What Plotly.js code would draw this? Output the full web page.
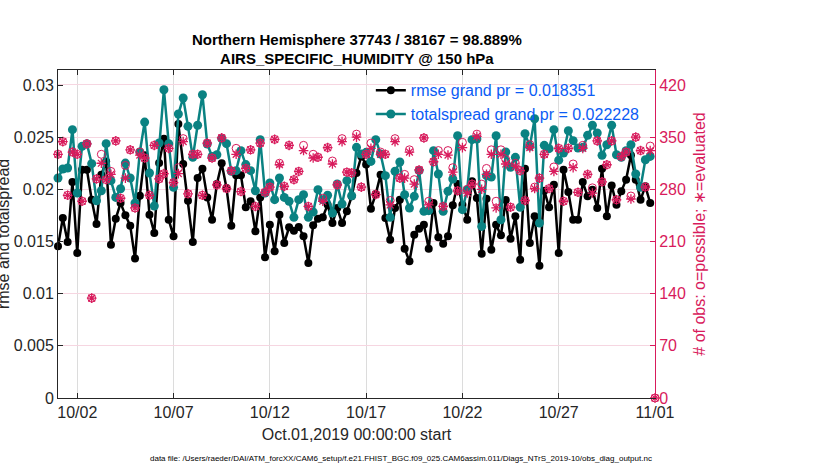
<!DOCTYPE html>
<html>
<head>
<meta charset="utf-8">
<script src="https://cdn.plot.ly/plotly-3.0.1.min.js"></script>
<style>html,body{margin:0;padding:0;background:#fff;}#chart{width:830px;height:470px;}</style>
</head>
<body>
<div id="chart"></div>
<script>
// ---- data (6-hourly bins starting Oct.01,2019 00:00) ----
var startTime = '2019-10-01T00:00:00Z';
var stepHours = 6;

var rmse = [
0.01454,0.01725,0.01495,0.0207,0.0139,0.02189,0.02189,0.0190,0.01668,0.0214,
0.02268,0.0147,0.01719,0.01869,0.01751,0.01652,0.01336,0.01939,0.02326,0.01757,
0.01582,0.02252,0.02486,0.01709,0.0155,0.02626,0.02243,0.01891,0.01495,0.02109,
0.02198,0.01923,0.01709,0.02051,0.02249,0.02013,0.01652,0.02134,0.02134,0.01828,
0.01885,0.01598,0.01923,0.01348,0.01661,0.01406,0.01757,0.01486,0.01636,0.01604,
0.01639,0.0155,0.01294,0.01655,0.01719,0.01732,0.01853,0.01677,0.01821,0.01677,
0.01789,0.01933,0.02157,0.02316,0.02237,0.01815,0.01955,0.02141,0.01725,0.01518,
0.01821,0.01901,0.01431,0.0131,0.01566,0.01623,0.01661,0.01431,0.01869,0.0154,
0.01479,0.0155,0.01847,0.02051,0.01853,0.01709,0.02077,0.01917,0.01383,0.01911,
0.01422,0.01661,0.01559,0.01898,0.01527,0.01741,0.01326,0.02198,0.01486,0.01741,
0.01268,0.01987,0.01828,0.02045,0.0139,0.02189,0.01975,0.01709,0.01709,0.0207,
0.01933,0.01997,0.01821,0.02198,0.01741,0.02038,0.01853,0.01981,0.02093,0.02326,
0.02093,0.01901,0.02029,0.01869
];

var totalspread = [
0.02109,0.02195,0.02205,0.02572,0.01965,0.02412,0.02438,0.02246,0.01891,0.01987,
0.02438,0.02083,0.01923,0.02006,0.02252,0.02109,0.01869,0.02358,0.02645,0.02157,
0.0184,0.02444,0.02955,0.02438,0.02019,0.02722,0.02876,0.02604,0.02307,0.02614,
0.02907,0.02435,0.02316,0.02332,0.02486,0.02438,0.02173,0.02179,0.02371,0.02237,
0.02179,0.01987,0.02476,0.01965,0.02061,0.01901,0.02109,0.01923,0.01885,0.01732,
0.01901,0.01949,0.01732,0.01783,0.01997,0.01901,0.01943,0.01773,0.02051,0.0186,
0.02083,0.01939,0.02403,0.02339,0.02355,0.02268,0.02476,0.02339,0.02131,0.01732,
0.02173,0.02262,0.01949,0.01821,0.01933,0.02179,0.01789,0.01796,0.02371,0.02147,
0.01789,0.01981,0.02099,0.02514,0.01805,0.01997,0.02476,0.02483,0.01645,0.02131,
0.02118,0.02514,0.01709,0.02358,0.02211,0.02307,0.01828,0.02534,0.02412,0.02677,
0.01677,0.02422,0.0239,0.02572,0.0228,0.02348,0.02562,0.02467,0.02396,0.02403,
0.02518,0.02614,0.0254,0.02326,0.02428,0.02614,0.02332,0.02307,0.02371,0.02428,
0.02147,0.02019,0.02284,0.02316
];

var obsPossible = [
327,344,272,330,327,264,341,134,294,327,
293,304,345,268,312,333,255,330,322,272,
339,294,301,335,289,309,348,274,327,327,
272,342,322,286,349,281,305,335,277,308,
333,257,342,276,283,347,315,284,339,293,
304,339,257,327,323,268,336,318,286,348,
303,302,354,283,327,342,273,330,327,265,
348,295,300,333,293,306,349,264,317,332,
257,332,309,278,343,280,287,354,287,308,
333,264,333,320,256,315,305,265,340,283,
295,327,281,310,335,264,335,314,276,339,
300,282,345,290,313,345,266,324,330,271,
350,332,283,338,0
];

var obsEvaluated = [
327,344,272,330,327,264,341,134,294,315,
293,300,345,268,295,333,255,326,322,272,
339,294,301,335,289,301,344,274,327,327,
272,342,322,286,349,281,305,327,277,308,
333,257,342,276,283,347,313,284,339,293,
304,332,257,322,323,264,336,314,286,344,
303,302,350,283,327,335,273,327,327,259,
344,295,295,330,287,306,349,259,317,327,
257,326,303,278,336,275,287,351,280,300,
327,255,327,314,256,311,305,265,336,281,
295,327,281,304,335,264,335,309,276,335,
300,275,345,290,313,345,266,324,330,267,
350,332,283,332,0
];

var rmseLabel = 'rmse grand pr = 0.018351';
var spreadLabel = 'totalspread grand pr = 0.022228';
var xTickText = ['10/02','10/07','10/12','10/17','10/22','10/27','11/01'];
var xTickVals = ['2019-10-02','2019-10-07','2019-10-12','2019-10-17','2019-10-22','2019-10-27','2019-11-01'];
var leftTicks = [0,0.005,0.01,0.015,0.02,0.025,0.03];
var leftTickText = ['0','0.005','0.01','0.015','0.02','0.025','0.03'];
var rightTicks = [0,70,140,210,280,350,420];

// ---- build time axis from bin index ----
function timeAt(i){
  var t = new Date(Date.parse(startTime) + i*stepHours*3600*1000);
  return t.toISOString().slice(0,19).replace('T',' ');
}
var tMetric = rmse.map(function(_,i){return timeAt(i);});
var tObs = obsPossible.map(function(_,i){return timeAt(i);});

var RED = '#d81b5c';
var TEAL = '#0a8282';
var AXC = '#262626';
var FONT = 'Liberation Sans, Arial, Helvetica, sans-serif';

var traces = [
  {x:tMetric, y:rmse, name:rmseLabel, type:'scatter', mode:'lines+markers',
   line:{color:'#000000', width:2.5}, marker:{color:'#000000', size:8, symbol:'circle'},
   cliponaxis:false, yaxis:'y'},
  {x:tMetric, y:totalspread, name:spreadLabel, type:'scatter', mode:'lines+markers',
   line:{color:TEAL, width:2.5}, marker:{color:TEAL, size:9, symbol:'circle'},
   cliponaxis:false, yaxis:'y'},
  {x:tObs, y:obsPossible, name:'possible', type:'scatter', mode:'markers', showlegend:false,
   marker:{symbol:'circle-open', size:8, color:RED, line:{color:RED, width:1}},
   cliponaxis:false, yaxis:'y2'},
  {x:tObs, y:obsEvaluated, name:'evaluated', type:'scatter', mode:'markers', showlegend:false,
   marker:{symbol:'asterisk-open', size:8, color:RED, line:{color:RED, width:1.3}},
   cliponaxis:false, yaxis:'y2'}
];

var layout = {
  width:830, height:470,
  margin:{l:58, r:175, t:70, b:72},
  paper_bgcolor:'#ffffff', plot_bgcolor:'#ffffff',
  font:{family:FONT, size:16, color:AXC},
  title:{text:'<b>Northern Hemisphere 37743 / 38167 = 98.889%</b><br><b>AIRS_SPECIFIC_HUMIDITY @ 150 hPa</b>',
    font:{family:FONT, size:15, color:'#000000'}, x:0.43, xanchor:'center', y:0.905, yanchor:'middle', yref:'container'},
  showlegend:true,
  legend:{x:0.524, y:0.99, xanchor:'left', yanchor:'top', bgcolor:'rgba(0,0,0,0)', borderwidth:0,
    font:{family:FONT, size:16, color:'#0b5cf5'}, tracegroupgap:0, itemwidth:30},
  xaxis:{type:'date', range:['2019-10-01 00:00','2019-11-01 00:00'],
    tickvals:xTickVals, ticktext:xTickText, ticks:'inside', ticklen:5, tickcolor:AXC,
    showline:true, linecolor:AXC, linewidth:1, mirror:'ticks',
    showgrid:true, gridcolor:'#dcdcdc', gridwidth:1, zeroline:false,
    tickfont:{family:FONT, size:16, color:AXC},
    title:{text:'Oct.01,2019 00:00:00 start', font:{family:FONT, size:16, color:AXC}, standoff:8}},
  yaxis:{range:[0,0.03144], tickvals:leftTicks, ticktext:leftTickText, ticks:'inside', ticklen:5, tickcolor:AXC,
    showline:true, linecolor:AXC, linewidth:1, showgrid:false, zeroline:false,
    tickfont:{family:FONT, size:16, color:AXC}},
  yaxis2:{overlaying:'y', side:'right', range:[0,440.1], tickvals:rightTicks, ticks:'inside', ticklen:5, tickcolor:RED,
    showline:true, linecolor:RED, linewidth:1, showgrid:true, gridcolor:'#f6d6e1', gridwidth:1, zeroline:false,
    tickfont:{family:FONT, size:16, color:RED},
    title:{text:'# of obs: o=possible; \u2217=evaluated', font:{family:FONT, size:16, color:RED}, standoff:8}},
  annotations:[
    {text:'rmse and totalspread', xref:'paper', yref:'paper', x:-0.092, y:0.5, xanchor:'center', yanchor:'middle',
     textangle:-90, showarrow:false, font:{family:FONT, size:16, color:AXC}},
    {text:'data file: /Users/raeder/DAI/ATM_forcXX/CAM6_setup/f.e21.FHIST_BGC.f09_025.CAM6assim.011/Diags_NTrS_2019-10/obs_diag_output.nc',
     xref:'paper', yref:'paper', x:0.5745, y:-0.183, xanchor:'center', yanchor:'middle', showarrow:false,
     font:{family:FONT, size:8, color:'#000000'}}
  ]
};

Plotly.newPlot('chart', traces, layout, {displayModeBar:false, staticPlot:true});
</script>
</body>
</html>
